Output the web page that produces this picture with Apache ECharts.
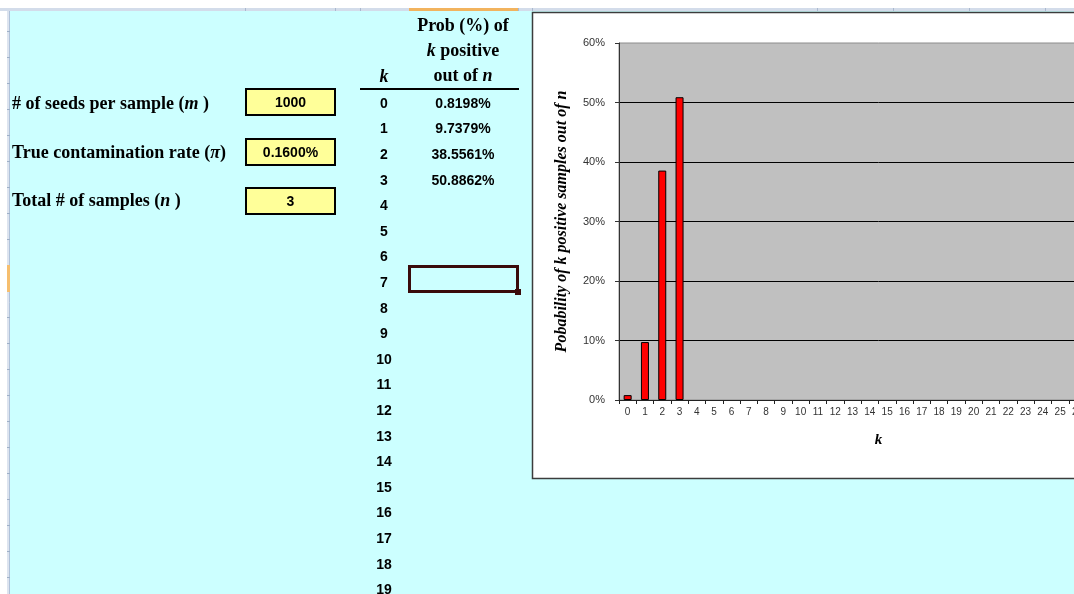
<!DOCTYPE html>
<html>
<head>
<meta charset="utf-8">
<script src="https://cdn.jsdelivr.net/npm/echarts@6/dist/echarts.min.js"></script>
<style>
  html, body { margin: 0; padding: 0; overflow: hidden; background: #fff; width: 1074px; height: 594px; }
  #main { width: 1240px; height: 594px; }
</style>
</head>
<body>
<div id="main"></div>
<script>
// Probability (%) of k positive samples out of n
const kCategories = ['0','1','2','3','4','5','6','7','8','9','10','11','12','13','14','15',
  '16','17','18','19','20','21','22','23','24','25','26','27','28','29'];
const probPercent = [0.8198, 9.7379, 38.5561, 50.8862];
const tableK = [0,1,2,3,4,5,6,7,8,9,10,11,12,13,14,15,16,17,18,19];
const yAxisTicks = { min: 0, max: 60, interval: 10 };

// Input cells
const seedsPerSample = '1000';
const contaminationRate = '0.1600%';
const totalSamples = '3';

const SERIF = '"Liberation Serif", "Times New Roman", serif';
const SANS = '"Liberation Sans", Arial, sans-serif';
const NARROW = '"Liberation Sans Narrow", "Liberation Sans", Arial, sans-serif';

const chart = echarts.init(document.getElementById('main'), null, { renderer: 'canvas' });

const g = [];

// ---- spreadsheet chrome ----
g.push({ type: 'rect', shape: { x: 0, y: 0, width: 1240, height: 8 }, style: { fill: '#ffffff' } });
g.push({ type: 'rect', shape: { x: 0, y: 8, width: 1240, height: 3 }, style: { fill: '#D3DCEA' } });
[245, 335, 360, 409, 518, 532, 817, 893, 969, 1045].forEach(function (x) {
  g.push({ type: 'line', shape: { x1: x + 0.5, y1: 8, x2: x + 0.5, y2: 11 }, style: { stroke: '#A9B8CE', lineWidth: 1 } });
});
g.push({ type: 'rect', shape: { x: 409, y: 8, width: 109, height: 3 }, style: { fill: '#F2B35E' } });
g.push({ type: 'rect', shape: { x: 0, y: 11, width: 7, height: 583 }, style: { fill: '#ffffff' } });
g.push({ type: 'rect', shape: { x: 7, y: 11, width: 3, height: 583 }, style: { fill: '#DDE4EF' } });
g.push({ type: 'line', shape: { x1: 9.5, y1: 11, x2: 9.5, y2: 594 }, style: { stroke: '#AFC1D9', lineWidth: 1 } });
[31, 57, 83, 109, 135, 161, 187, 213, 239, 265, 291, 317, 343, 369, 395, 421, 447, 473, 499, 525, 551, 577].forEach(function (y) {
  g.push({ type: 'line', shape: { x1: 7, y1: y + 0.5, x2: 10, y2: y + 0.5 }, style: { stroke: '#9EB0C8', lineWidth: 1 } });
});
g.push({ type: 'rect', shape: { x: 7, y: 265, width: 3, height: 27 }, style: { fill: '#F6BE6E' } });

// ---- input labels ----
const labelFont = 'bold 18px ' + SERIF;
const italFont = 'italic bold 18px ' + SERIF;
function richLabel(x, y, text, align) {
  return {
    type: 'text', x: x, y: y,
    style: {
      text: text, font: labelFont, fill: '#000', align: align || 'left', verticalAlign: 'middle',
      rich: { i: { font: italFont, fill: '#000' } }
    }
  };
}
g.push(richLabel(12, 104, '# of seeds per sample ({i|m} )'));
g.push(richLabel(12, 153, 'True contamination rate ({i|\u03C0})'));
g.push(richLabel(12, 201, 'Total # of samples ({i|n} )'));

// ---- input boxes ----
[[89, seedsPerSample], [139, contaminationRate], [188, totalSamples]].forEach(function (b) {
  g.push({ type: 'rect', shape: { x: 246, y: b[0], width: 89, height: 26 },
    style: { fill: '#FFFF99', stroke: '#000', lineWidth: 2 } });
  g.push({ type: 'text', x: 290.5, y: b[0] + 14,
    style: { text: b[1], font: 'bold 14px ' + NARROW, fill: '#000', align: 'center', verticalAlign: 'middle' } });
});

// ---- table header ----
g.push(richLabel(463, 26, 'Prob (%) of', 'center'));
g.push(richLabel(463, 51, '{i|k} positive', 'center'));
g.push(richLabel(463, 76, 'out of {i|n}', 'center'));
g.push(richLabel(384, 77, '{i|k}', 'center'));
g.push({ type: 'line', shape: { x1: 360, y1: 89, x2: 519, y2: 89 }, style: { stroke: '#000', lineWidth: 2 } });

// ---- table rows ----
tableK.forEach(function (k, i) {
  const y = 104 + i * 25.6;
  g.push({ type: 'text', x: 384, y: y,
    style: { text: String(k), font: 'bold 14px ' + NARROW, fill: '#000', align: 'center', verticalAlign: 'middle' } });
  if (i < probPercent.length) {
    g.push({ type: 'text', x: 463, y: y,
      style: { text: probPercent[i].toFixed(4) + '%', font: 'bold 14px ' + NARROW, fill: '#000', align: 'center', verticalAlign: 'middle' } });
  }
});

// active cell
g.push({ type: 'rect', shape: { x: 409.5, y: 266.5, width: 108, height: 25 },
  style: { fill: 'none', stroke: '#3A0B0B', lineWidth: 3 } });
g.push({ type: 'rect', shape: { x: 515, y: 289, width: 6, height: 6 }, style: { fill: '#3A0B0B' } });

// ---- chart area frame ----
g.push({ type: 'rect', z: -1, shape: { x: 532.5, y: 12.5, width: 660, height: 466 },
  style: { fill: '#ffffff', stroke: '#3C3C3C', lineWidth: 1.5 } });

const CAT_W = 17.3;

chart.setOption({
  backgroundColor: '#CCFFFF',
  animation: false,
  graphic: { elements: g },
  grid: {
    left: 619, top: 43, width: CAT_W * kCategories.length, height: 357,
    show: true, backgroundColor: '#C0C0C0', borderColor: '#8C8C8C', borderWidth: 1
  },
  xAxis: {
    type: 'category',
    data: kCategories,
    name: 'k',
    nameLocation: 'middle',
    nameGap: 33,
    nameTextStyle: { fontFamily: SERIF, fontWeight: 'bold', fontStyle: 'italic', fontSize: 15, color: '#000' },
    axisLine: { lineStyle: { color: '#222', width: 1 } },
    axisTick: { show: true, alignWithLabel: false, length: 4, lineStyle: { color: '#222' } },
    axisLabel: { interval: 0, fontFamily: SANS, fontSize: 10, color: '#333', margin: 7 },
    splitLine: { show: false }
  },
  yAxis: {
    type: 'value',
    min: yAxisTicks.min, max: yAxisTicks.max, interval: yAxisTicks.interval,
    name: 'Pobability of k positive samples out of n',
    nameLocation: 'middle',
    nameGap: 49,
    nameTextStyle: { fontFamily: SERIF, fontWeight: 'bold', fontStyle: 'italic', fontSize: 16, color: '#000' },
    axisLine: { show: true, lineStyle: { color: '#333', width: 1 } },
    axisTick: { show: true, length: 4, lineStyle: { color: '#333' } },
    axisLabel: { fontFamily: SANS, fontSize: 11, color: '#333', margin: 14, formatter: function (v) { return v + '%'; } },
    splitLine: { show: true, showMinLine: false, showMaxLine: false, lineStyle: { color: '#000', width: 1 } }
  },
  series: [{
    type: 'bar',
    data: kCategories.map(function (c, i) { return i < probPercent.length ? probPercent[i] : null; }),
    barWidth: 8,
    itemStyle: { color: '#FF0000', borderColor: '#000', borderWidth: 1 }
  }]
});
</script>
</body>
</html>
